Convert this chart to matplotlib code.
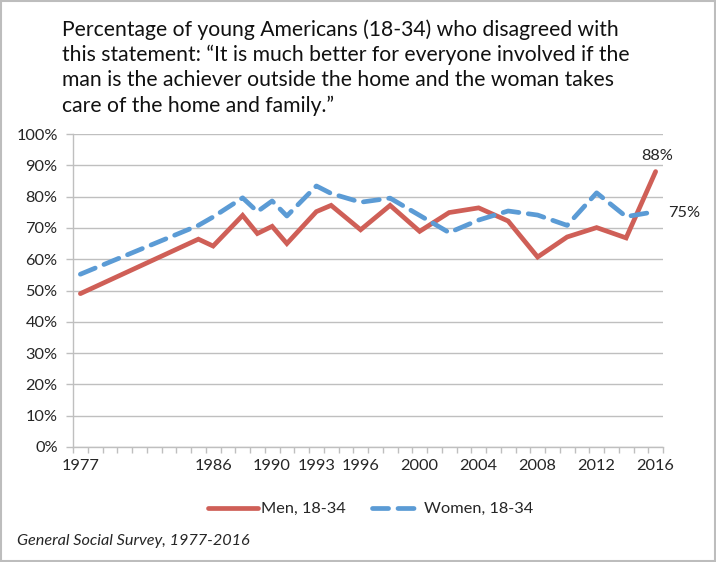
import matplotlib
matplotlib.use('Agg')
import matplotlib.pyplot as plt
from matplotlib.ticker import FixedLocator, PercentFormatter, NullFormatter
from matplotlib.patches import Rectangle

years = [1977, 1985, 1986, 1988, 1989, 1990, 1991, 1993, 1994, 1996, 1998,
         2000, 2002, 2004, 2006, 2008, 2010, 2012, 2014, 2016]
men = [49, 66.4, 64.2, 74, 68.2, 70.5, 65, 75.2, 77.2, 69.4, 77.2,
       68.9, 74.9, 76.4, 72.2, 60.7, 67.1, 70.1, 66.8, 88]
women = [55.2, 70.8, 73.5, 79.6, 75.2, 78.6, 73.8, 83.4, 81, 78.2, 79.5,
         74, 68.5, 72.5, 75.4, 74.1, 70.8, 81.2, 73.6, 75.2]
tick_years = [1977, 1986, 1990, 1993, 1996, 2000, 2004, 2008, 2012, 2016]
series_names = ["Men, 18-34", "Women, 18-34"]
title = ("Percentage of young Americans (18-34) who disagreed with\n"
         "this statement: \u201cIt is much better for everyone involved if the\n"
         "man is the achiever outside the home and the woman takes\n"
         "care of the home and family.\u201d")
source = "General Social Survey, 1977-2016"

FONT = ['Lato', 'DejaVu Sans']
plt.rcParams['font.family'] = FONT
TXT = '#262626'
RED = '#CF5F57'
BLUE = '#5B9BD5'
GRID = '#BFBFBF'

W, H = 716, 562
fig = plt.figure(figsize=(W / 100, H / 100), dpi=100)

# frame around the figure
fig.patches.append(Rectangle((0.002, 0.002), 0.996, 0.996, transform=fig.transFigure,
                             fill=False, edgecolor='#BDBDBD', linewidth=1.5))

ax = fig.add_axes([73 / W, 1 - 447 / H, (663 - 73) / W, (447 - 134) / H])

ax.plot(years, men, color=RED, linewidth=3.4, solid_capstyle='round',
        solid_joinstyle='miter', label=series_names[0], zorder=3)
ax.plot(years, women, color=BLUE, linewidth=3.4, dashes=(3.4, 2.0),
        dash_capstyle='round', label=series_names[1], zorder=3)

ax.set_xlim(1976.5, 2016.5)
ax.set_ylim(0, 100)
ax.yaxis.set_major_locator(FixedLocator(range(0, 101, 10)))
ax.yaxis.set_major_formatter(PercentFormatter(decimals=0))
ax.grid(axis='y', color=GRID, linewidth=1.0)
ax.set_axisbelow(True)

ax.xaxis.set_major_locator(FixedLocator(tick_years))
ax.xaxis.set_minor_locator(FixedLocator([1976.5 + k for k in range(41)]))
ax.xaxis.set_minor_formatter(NullFormatter())
ax.tick_params(axis='x', which='major', length=0, pad=9, labelsize=11.8, labelcolor=TXT)
ax.tick_params(axis='x', which='minor', length=4, color=GRID, width=1)
ax.tick_params(axis='y', which='major', length=5, color=GRID, width=1, pad=6,
               labelsize=11.8, labelcolor=TXT)

for s in ['top', 'right']:
    ax.spines[s].set_visible(False)
for s in ['left', 'bottom']:
    ax.spines[s].set_color(GRID)
    ax.spines[s].set_linewidth(1)

# data labels for the last points
ax.annotate(f"{men[-1]:.0f}%", (years[-1], men[-1]), xytext=(1, 6),
            textcoords='offset points', ha='center', va='bottom', fontsize=11.8, color=TXT)
ax.annotate(f"{women[-1]:.0f}%", (years[-1], women[-1]), xytext=(9, -1),
            textcoords='offset points', ha='left', va='center', fontsize=11.8, color=TXT,
            annotation_clip=False)

fig.text(62 / W, 1 - 19 / H, title, ha='left', va='top', fontsize=15.2, color='#111111',
         linespacing=1.32)

fig.legend(loc='center', bbox_to_anchor=(371 / W, 1 - 509 / H), ncol=2, frameon=False,
           fontsize=11.8, handlelength=3.0, handletextpad=0.2, columnspacing=1.6,
           labelcolor=TXT)

fig.text(17 / W, 1 - 541 / H, source, ha='left', va='center', fontsize=11.7,
         style='italic', color=TXT)

fig.savefig('out.png', dpi=100)
